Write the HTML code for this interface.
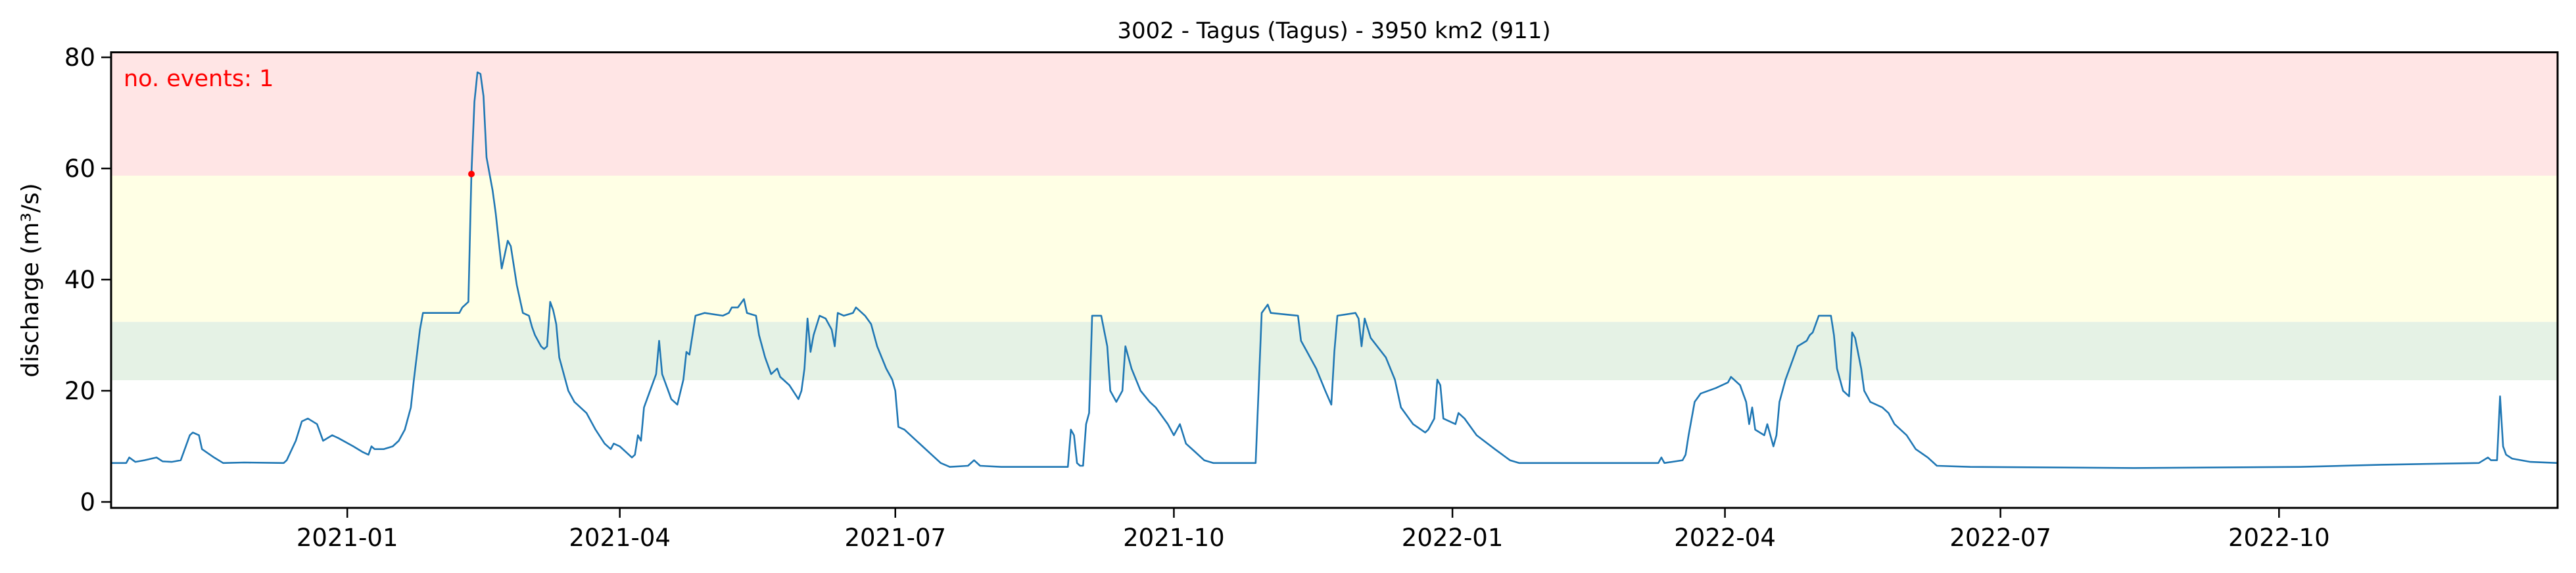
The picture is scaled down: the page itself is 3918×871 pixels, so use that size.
<!DOCTYPE html>
<html>
<head>
<meta charset="utf-8">
<style>
html,body{margin:0;padding:0;background:#fff;}
svg{display:block;font-family:"DejaVu Sans","Liberation Sans",sans-serif;}
</style>
</head>
<body>
<svg id="chart" width="3918" height="871" viewBox="0 0 3918 871" xmlns="http://www.w3.org/2000/svg">
  <text x="2029" y="58" font-size="34" text-anchor="middle">3002 - Tagus (Tagus) - 3950 km2 (911)</text>
  <g id="bands"></g>
  <g id="series"></g>
  <text x="188" y="131" font-size="35" fill="#ff0000">no. events: 1</text>
  <rect x="169" y="79.5" width="3721" height="692.5" fill="none" stroke="#000" stroke-width="3"/>
  <g id="yaxis"></g>
  <g id="xaxis"></g>
  <text transform="translate(58,426) rotate(-90)" font-size="36" text-anchor="middle">discharge (m³/s)</text>
</svg>
<script>
// days since 2021-01-01
const dayOffsets = [-78,-73,-72,-70,-67,-63,-61,-58,-55,-54,-52,-51,-49,-48,-44,-41,-34,-21,-20,-17,-15,-13,-10,-8,-5,-3,2,5,7,8,9,12,15,17,19,21,22,24,25,31,37,38,40,41,42,43,44,45,46,48,49,51,52,53,54,56,58,60,61,62,64,65,66,67,68,69,70,73,75,76,79,82,85,87,88,90,92,94,95,96,97,98,100,102,103,104,106,107,109,111,112,113,115,118,124,126,127,129,131,132,135,136,138,140,142,143,146,149,150,151,152,153,154,156,158,160,161,162,164,167,168,170,171,173,175,178,180,181,182,184,187,190,193,196,199,205,207,209,216,238,239,240,241,242,243,244,245,246,249,251,252,254,256,257,259,262,265,267,271,273,275,277,280,283,286,300,302,304,305,314,315,317,320,323,325,326,327,333,334,335,336,338,343,346,348,352,356,357,359,360,361,362,366,367,369,373,379,384,387,433,434,435,441,442,443,445,447,452,456,457,460,462,463,464,465,468,469,471,472,473,475,477,479,482,483,484,486,490,491,492,494,496,497,498,500,501,503,507,509,511,515,518,522,525,536,590,645,672,693,704,707,708,710,711,712,713,715,721,730];
const discharge = [7,7,8,7.2,7.5,8,7.3,7.2,7.5,9,12,12.5,12,9.5,8,7,7.1,7,7.5,11,14.5,15,14,11,12,11.5,10,9,8.5,10,9.5,9.5,10,11,13,17,22,31,34,34,34,35,36,59,72,77.3,77,73,62,56,52,42,44.5,47,46,39,34,33.5,31.5,30,28,27.5,28,36,34.5,32,26,20,18,17.5,16,13,10.5,9.5,10.5,10,9,8,8.5,12,11,17,20,23,29,23,20,18.5,17.5,22,27,26.5,33.5,34,33.5,34,35,35,36.5,34,33.5,30,26,23,24,22.5,21,18.5,20,24,33,27,30,33.5,33,31,28,34,33.5,34,35,34,33.5,32,28,24,22,20,13.5,13,11.5,10,8.5,7,6.3,6.5,7.5,6.5,6.3,6.3,13,12,7,6.5,6.5,14,16,33.5,33.5,28,20,18,20,28,24,20,18,17,14,12,14,10.5,9,7.5,7,7,34,35.5,34,33.5,29,27,24,20,17.5,27,33.5,34,33,28,33,29.5,26,22,17,14,12.5,13,15,22,21,15,14,16,15,12,9.5,7.5,7,7,8,7,7.5,8.5,12,18,19.5,20.5,21.5,22.5,21,18,14,17,13,12,14,10,12,18,22,25,28,29,30,30.5,33.5,33.5,30,24,20,19,30.5,29.5,24,20,18,17,16,14,12,9.5,8,6.5,6.3,6.1,6.3,6.7,6.9,7,8,7.5,7.5,19,10,8.5,7.8,7.2,7];
const eventDays = [41];
const eventValues = [59];
const bandNames = ['band-low','band-medium','band-high'];
const bandLower = [21.9,32.4,58.7];
const bandUpper = [32.4,58.7,80.9];
const bandColors = ['#e5f2e5','#ffffe5','#ffe5e5'];
const yTicks = [0,20,40,60,80];
const xTickDays = [0,90,181,273,365,455,546,638];
const xTickLabels = ['2021-01','2021-04','2021-07','2021-10','2022-01','2022-04','2022-07','2022-10'];

const NS='http://www.w3.org/2000/svg';
const L=169,R=3890,T=79.5,B=772;
const yMin=-1.07,yMax=80.9;
const xMin=Math.min(...dayOffsets),xMax=Math.max(...dayOffsets);
const sx=d=>L+(d-xMin)/(xMax-xMin)*(R-L);
const sy=v=>B-(v-yMin)/(yMax-yMin)*(B-T);
function mk(tag,attrs,parent){const e=document.createElementNS(NS,tag);for(const k in attrs)e.setAttribute(k,attrs[k]);parent.appendChild(e);return e;}

const bands=document.getElementById('bands');
bandLower.forEach((lo,i)=>{
  const top=Math.max(T,sy(bandUpper[i]));
  const r=mk('rect',{x:L,y:top,width:R-L,height:sy(lo)-top,fill:bandColors[i]},bands);
  
  
});

const series=document.getElementById('series');
const pts=dayOffsets.map((d,i)=>sx(d).toFixed(1)+','+sy(discharge[i]).toFixed(1)).join(' ');
const line=mk('polyline',{points:pts,fill:'none',stroke:'#1f77b4','stroke-width':2.6,'stroke-linejoin':'round'},series);


eventDays.forEach((d,i)=>{
  const c=mk('circle',{cx:sx(d),cy:sy(eventValues[i]),r:5,fill:'#ff0000'},series);
  
  
});

const ya=document.getElementById('yaxis');
yTicks.forEach(v=>{
  const y=sy(v);
  const t=mk('line',{x1:L-15,x2:L,y1:y,y2:y,stroke:'#000','stroke-width':2.5},ya);
  
  
  const tx=mk('text',{x:L-24,y:y+13,'font-size':37,'text-anchor':'end'},ya);
  tx.textContent=v;
  
  
});
const xa=document.getElementById('xaxis');
xTickDays.forEach((d,i)=>{
  const x=sx(d);
  const t=mk('line',{x1:x,x2:x,y1:B,y2:B+15,stroke:'#000','stroke-width':2.5},xa);
  
  
  const tx=mk('text',{x:x,y:B+58,'font-size':37,'text-anchor':'middle'},xa);
  tx.textContent=xTickLabels[i];
  
  
});
</script>
</body>
</html>
